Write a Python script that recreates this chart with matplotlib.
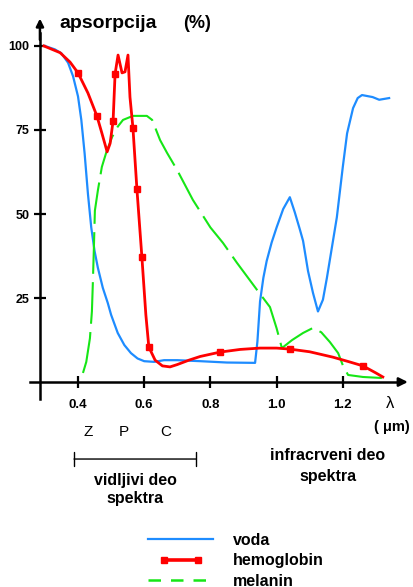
#!/usr/bin/env python3
"""
Absorpcija svetlosti u koži: voda, hemoglobin, melanin
"""

import matplotlib.pyplot as plt
from matplotlib.lines import Line2D
from matplotlib.legend_handler import HandlerLine2D

plt.rcParams['font.family'] = ['Liberation Sans', 'DejaVu Sans']

# talasna duzina (um) i apsorpcija (%) - ocitano sa slike
voda_x = [0.30, 0.33, 0.35, 0.37, 0.385, 0.40, 0.41, 0.42, 0.43, 0.44, 0.45, 0.46,
          0.475, 0.49, 0.50, 0.52, 0.54, 0.56, 0.58, 0.60, 0.63, 0.66, 0.70, 0.77,
          0.85, 0.935, 0.942, 0.95, 0.96, 0.97, 0.985, 1.00, 1.02, 1.04, 1.055,
          1.07, 1.08, 1.095, 1.11, 1.125, 1.14, 1.152, 1.167, 1.182, 1.20, 1.213,
          1.231, 1.245, 1.258, 1.29, 1.31, 1.34]
voda_y = [100, 99, 97.8, 95, 91, 85, 78, 68, 56, 46, 39, 34,
          28, 23.5, 20, 14.6, 11, 8.6, 7, 6.2, 6, 6.5, 6.5, 6.2,
          5.8, 5.7, 12, 24, 31, 36, 41.5, 46, 51.5, 55, 50.5,
          45.5, 42, 33, 26.5, 21, 24.5, 31, 40, 49, 64, 74,
          81.5, 84.5, 85.4, 84.8, 84, 84.5]

hb_x = [0.297, 0.346, 0.376, 0.400, 0.43, 0.457, 0.472, 0.488, 0.497, 0.506, 0.512,
        0.521, 0.533, 0.542, 0.551, 0.557, 0.566, 0.578, 0.593, 0.605, 0.614, 0.633,
        0.655, 0.678, 0.70, 0.735, 0.769, 0.829, 0.89, 0.95, 1.00, 1.04, 1.10,
        1.17, 1.22, 1.261, 1.30, 1.321]
hb_y = [100, 98, 95.2, 92, 86, 79.2, 74.1, 68.5, 71, 77.7, 91.7,
        97.3, 92, 92.3, 97.3, 84.8, 75.6, 57.4, 37.2, 20, 10.4, 6.5,
        4.8, 4.5, 5.2, 6.5, 7.6, 8.9, 9.7, 10.1, 10.1, 9.8, 9,
        7.4, 6, 4.8, 2.7, 1.5]
hb_mark_x = [0.400, 0.457, 0.506, 0.512, 0.566, 0.578, 0.593, 0.614, 0.829, 1.04, 1.261]
hb_mark_y = [92, 79.2, 77.7, 91.7, 75.6, 57.4, 37.2, 10.4, 8.9, 9.8, 4.8]

mel_x = [0.415, 0.425, 0.436, 0.442, 0.445, 0.448, 0.451, 0.460, 0.472, 0.485, 0.503,
         0.52, 0.536, 0.566, 0.608, 0.624, 0.648, 0.669, 0.70, 0.747, 0.80, 0.838,
         0.88, 0.941, 0.98, 1.00, 1.016, 1.047, 1.08, 1.11, 1.135, 1.161, 1.186,
         1.20, 1.216, 1.261, 1.318]
mel_y = [2.7, 6, 13, 21, 30, 40, 51, 57, 64, 68.2, 72.9,
         76, 78, 79.2, 79.2, 78, 72, 68.2, 63, 54.2, 46, 41.4,
         35.5, 27.4, 22.3, 16, 10.1, 12.5, 14.6, 16.1, 14.8, 11.9, 8.6,
         5, 2.1, 1.5, 1.2]

x_ticks = [0.4, 0.6, 0.8, 1.0, 1.2]
x_labels = ['0.4', '0.6', '0.8', '1.0', '1.2']
y_ticks = [25, 50, 75, 100]
y_labels = ['25', '50', '75', '100']
boje = ['Z', 'P', 'C']
boje_x = [0.43, 0.539, 0.666]
vidljivo = (0.388, 0.756)
legend_labels = ['voda', 'hemoglobin', 'melanin']

BLUE = '#1e8cff'
RED = '#ff0000'
GREEN = '#16e616'

W, H = 413, 587


def fpos(px, py):
    return px / W, 1 - py / H


fig = plt.figure(figsize=(W / 100, H / 100), dpi=100)
ax = fig.add_axes([0.0286, 0.3034, 0.9697, 0.6755])
ax.set_xlim(0.2, 1.41)
ax.set_ylim(-8, 110)

ax.plot(voda_x, voda_y, color=BLUE, lw=1.6)
ax.plot(mel_x, mel_y, color=GREEN, lw=1.5, dashes=(20, 4))
ax.plot(hb_x, hb_y, color=RED, lw=2.0)
ax.plot(hb_mark_x, hb_mark_y, ls='none', marker='s', ms=4.5, color=RED)

# osovine
for s in ['top', 'right']:
    ax.spines[s].set_visible(False)
ax.spines['left'].set_position(('data', 0.285))
ax.spines['bottom'].set_position(('data', 0))
ax.spines['left'].set_bounds(-5, 104)
ax.spines['bottom'].set_bounds(0.255, 1.37)
for s in ['left', 'bottom']:
    ax.spines[s].set_linewidth(1.8)
ax.annotate('', xy=(0.285, 109), xytext=(0.285, 101),
            arrowprops=dict(arrowstyle='-|>', lw=1.8, color='k', mutation_scale=11),
            annotation_clip=False)
ax.annotate('', xy=(1.405, 0), xytext=(1.36, 0),
            arrowprops=dict(arrowstyle='-|>', lw=1.8, color='k', mutation_scale=13),
            annotation_clip=False)

ax.set_xticks(x_ticks)
ax.set_xticklabels(x_labels, fontweight='bold')
ax.set_yticks(y_ticks)
ax.set_yticklabels(y_labels, fontweight='bold')
ax.tick_params(axis='x', direction='inout', length=9, width=1.6, pad=8, labelsize=9.5)
ax.tick_params(axis='y', direction='inout', length=9, width=1.6, pad=3, labelsize=9)

# natpisi
fig.text(*fpos(59, 23), 'apsorpcija', fontsize=14, fontweight='bold', va='center')
fig.text(*fpos(183, 23), '(%)', fontsize=13, fontweight='bold', va='center')
fig.text(*fpos(390, 404), 'λ', fontsize=12, ha='center', va='center')
fig.text(*fpos(392, 427), '( μm)', fontsize=10.5, fontweight='bold', ha='center', va='center')

for lab, bx in zip(boje, boje_x):
    ax.text(bx, (382 - 432) / 3.36, lab, fontsize=11, ha='center', va='center', clip_on=False)

ax.annotate('', xy=(vidljivo[0], (382 - 459) / 3.36), xytext=(vidljivo[1], (382 - 459) / 3.36),
            arrowprops=dict(arrowstyle='|-|', lw=1.0, color='k', mutation_scale=5,
                            shrinkA=0, shrinkB=0),
            annotation_clip=False)
fig.text(*fpos(135, 480), 'vidljivi deo', fontsize=11.5, fontweight='bold', ha='center', va='center')
fig.text(*fpos(135, 499), 'spektra', fontsize=11.5, fontweight='bold', ha='center', va='center')
fig.text(*fpos(328, 456), 'infracrveni deo', fontsize=11.5, fontweight='bold', ha='center', va='center')
fig.text(*fpos(328, 476), 'spektra', fontsize=11.5, fontweight='bold', ha='center', va='center')

# legenda
h_voda = Line2D([], [], color=BLUE, lw=1.6)
h_hb = Line2D([], [], color=RED, lw=2.6, marker='s', ms=5)
h_mel = Line2D([], [], color=GREEN, lw=1.8, dashes=(5, 4))
ax.legend([h_voda, h_hb, h_mel], legend_labels,
          handler_map={h_hb: HandlerLine2D(numpoints=2, marker_pad=1.0)},
          loc='upper left', bbox_to_anchor=fpos(148, 533), bbox_transform=fig.transFigure,
          frameon=False, borderpad=0, borderaxespad=0, handlelength=4.1,
          handletextpad=1.2, labelspacing=0.33,
          prop={'size': 11.5, 'weight': 'bold'})

fig.savefig('out.png', dpi=100)
